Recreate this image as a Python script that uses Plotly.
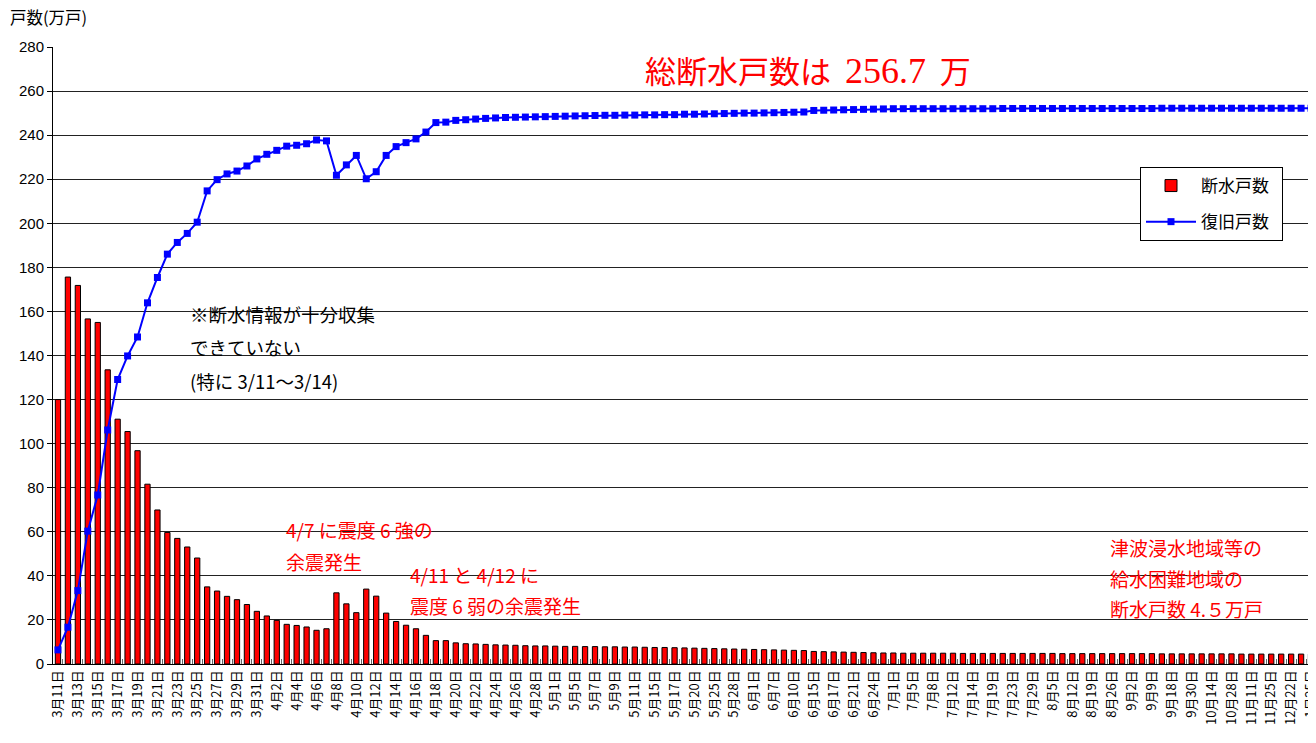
import plotly.graph_objects as go

# ---- data ----
dates = (
    [f"3月{d}日" for d in range(11, 32)]
    + [f"4月{d}日" for d in range(1, 29)]
    + ["4月30日", "5月1日", "5月2日", "5月5日", "5月6日", "5月7日", "5月8日", "5月9日",
       "5月10日", "5月11日", "5月13日", "5月15日", "5月16日", "5月17日", "5月18日",
       "5月20日", "5月23日", "5月25日", "5月27日", "5月28日", "5月31日", "6月1日",
       "6月3日", "6月7日", "6月9日", "6月10日", "6月13日", "6月15日", "6月16日",
       "6月17日", "6月20日", "6月21日", "6月22日", "6月24日", "6月28日", "7月1日",
       "7月4日", "7月5日", "7月6日", "7月8日", "7月11日", "7月12日", "7月13日",
       "7月14日", "7月15日", "7月19日", "7月21日", "7月23日", "7月27日", "7月29日",
       "8月2日", "8月5日", "8月9日", "8月12日", "8月16日", "8月19日", "8月23日",
       "8月26日", "8月30日", "9月2日", "9月6日", "9月9日", "9月13日", "9月18日",
       "9月22日", "9月30日", "10月7日", "10月14日", "10月21日", "10月28日",
       "11月4日", "11月11日", "11月18日", "11月25日", "12月9日", "12月22日",
       "1月12日", "1月25日"]
)

outage = [120, 175.6, 171.8, 156.6, 155.0, 133.5, 111.1, 105.5, 96.8, 81.6,
          69.9, 59.7, 57.0, 53.1, 48.1, 35.0, 33.1, 30.7, 29.2, 27.0,
          23.9, 21.8, 19.8, 18.0, 17.5, 16.8, 15.3, 16.0, 32.3, 27.3,
          23.3, 34.0, 30.8, 23.1, 19.3, 17.6, 16.0, 13.0, 10.6, 10.6,
          9.6, 9.2, 9.1, 8.9, 8.7, 8.6, 8.5, 8.3, 8.2, 8.2,
          8.1, 8.0, 8.0, 7.9, 7.9, 7.8, 7.8, 7.7, 7.7, 7.6,
          7.5, 7.5, 7.4, 7.3, 7.2, 7.1, 7.0, 6.9, 6.8, 6.7,
          6.6, 6.5, 6.4, 6.3, 6.2, 6.1, 5.7, 5.6, 5.5, 5.4,
          5.3, 5.2, 5.1, 5.0, 5.0,
          4.9, 4.9, 4.9, 4.9, 4.9, 4.9,
          4.8, 4.8, 4.8, 4.8, 4.8, 4.8, 4.8, 4.8, 4.8, 4.8,
          4.7, 4.7, 4.7, 4.7, 4.7, 4.7, 4.7, 4.7, 4.7, 4.7,
          4.6, 4.6, 4.6, 4.6, 4.6, 4.6, 4.6, 4.6,
          4.5, 4.5, 4.5, 4.5, 4.5, 4.5, 4.5, 4.5]

restored = [6.4, 16.7, 33.3, 60.3, 76.7, 106.2, 129.1, 139.8, 148.4, 163.9,
            175.4, 186.0, 191.3, 195.4, 200.5, 214.7, 219.8, 222.4, 223.7, 226.0,
            229.2, 231.3, 233.1, 235.0, 235.4, 236.1, 237.8, 237.4, 221.8, 226.5,
            230.8, 220.2, 223.4, 230.8, 234.8, 236.6, 238.3, 241.4, 245.7, 245.9,
            246.7, 247.0, 247.3, 247.6, 247.8, 248.0, 248.1, 248.2, 248.3, 248.4,
            248.5, 248.6, 248.7, 248.8, 248.9, 249.0, 249.0, 249.1, 249.1, 249.2,
            249.2, 249.3, 249.3, 249.5, 249.5, 249.6, 249.7, 249.8, 249.9, 250.0,
            250.0, 250.1, 250.2, 250.3, 250.4, 250.5, 251.2, 251.3, 251.4, 251.5,
            251.6, 251.7, 251.8, 251.9, 252.0,
            252.0, 252.0, 252.0, 252.0, 252.0, 252.0, 252.0, 252.0, 252.0, 252.0,
            252.1, 252.1, 252.1, 252.1, 252.1, 252.1, 252.1, 252.1,
            252.1, 252.1, 252.1, 252.1, 252.1, 252.1, 252.1, 252.1,
            252.2, 252.2, 252.2, 252.2, 252.2, 252.2, 252.2, 252.2,
            252.2, 252.2, 252.2, 252.2, 252.2, 252.2, 252.2, 252.2]

tick_labels = [d if i % 2 == 0 else "" for i, d in enumerate(dates)]
y_ticks = list(range(0, 281, 20))

JP = "Noto Sans CJK JP, Liberation Sans, sans-serif"
NUM = "Liberation Sans, Arial, Noto Sans CJK JP, sans-serif"

fig = go.Figure()
fig.add_trace(go.Bar(
    x=dates, y=outage, name="断水戸数&nbsp;&nbsp;",
    marker=dict(color="#FF0000", line=dict(color="#000000", width=1)),
    legendgroup="a",
))
fig.add_trace(go.Scatter(
    x=dates, y=restored, name="復旧戸数&nbsp;&nbsp;", mode="lines+markers",
    line=dict(color="#0000FF", width=2),
    marker=dict(symbol="square", size=7, color="#0000FF"),
    legendgroup="b",
))

# The page body has an 8px margin; target plot-area edges in page pixels:
OFF = 8
L, R, T, B = 53, 1316, 47, 664
W, H = 1316 - OFF, 743 - OFF
def px(X):
    return (X - L) / (R - L)
def py(Y):
    return (B - Y) / (B - T)

annos = [
    ("※断水情報が十分収集", 188, 314, "#000000", 18.5),
    ("できていない", 188, 347, "#000000", 18.5),
    ("(特に 3/11～3/14)", 188, 381, "#000000", 18.5),
    ("4/7 に震度 6 強の", 284, 529, "#FF0000", 19),
    ("余震発生", 284, 561, "#FF0000", 19),
    ("4/11 と 4/12 に", 408, 574, "#FF0000", 19),
    ("震度 6 弱の余震発生", 408, 605, "#FF0000", 19),
    ("津波浸水地域等の", 1108, 547, "#FF0000", 19),
    ("給水困難地域の", 1108, 578, "#FF0000", 19),
    ("断水戸数 4.５万戸", 1108, 608, "#FF0000", 19),
]
for txt, X, Y, col, sz in annos:
    fig.add_annotation(text=txt, x=px(X), y=py(Y), xref="paper", yref="paper",
                       xanchor="left", yanchor="middle", showarrow=False,
                       font=dict(family=JP, size=sz, color=col))

fig.add_annotation(
    text='総断水戸数は&nbsp;&nbsp;<span style="font-family:Liberation Serif, Times New Roman, serif;font-size:36px">256.7</span>&nbsp;&nbsp;万',
    x=px(643), y=py(70), xref="paper", yref="paper", xanchor="left", yanchor="middle",
    showarrow=False, font=dict(family=JP, size=31, color="#FF0000"))

fig.update_layout(
    width=W, height=H,
    title=dict(text="戸数(万戸)", xref="container", yref="container",
               x=(10 - OFF) / W, y=1 - (18 - OFF) / H, xanchor="left", yanchor="middle",
               font=dict(family=JP, size=16.5, color="#000000")),
    margin=dict(l=L - OFF, r=W - (R - OFF), t=T - OFF, b=H - (B - OFF), autoexpand=False),
    paper_bgcolor="white", plot_bgcolor="white",
    bargap=0.47,
    showlegend=True,
    legend=dict(x=px(1140), y=py(167), xanchor="left", yanchor="top",
                bgcolor="white", bordercolor="#000000", borderwidth=1,
                font=dict(family=JP, size=17, color="#000000"),
                tracegroupgap=11, traceorder="grouped", itemwidth=50),
    xaxis=dict(type="category", tickmode="array", tickvals=dates, ticktext=tick_labels,
               tickangle=-90, tickson="boundaries", ticks="inside", ticklen=5,
               tickcolor="#666666", showgrid=False, showline=True, automargin=False,
               linecolor="#000000", linewidth=1,
               tickfont=dict(family=JP, size=13, color="#000000"),
               range=[-0.5, len(dates) - 0.5]),
    yaxis=dict(range=[0, 280], tickvals=y_ticks, ticks="outside", ticklen=5,
               tickcolor="#000000", showgrid=True, gridcolor="#222222", gridwidth=1,
               showline=True, linecolor="#000000", linewidth=1, zeroline=False,
               automargin=False,
               tickfont=dict(family=NUM, size=15, color="#000000")),
)

fig.write_html("out.html", config={"displayModeBar": False})
